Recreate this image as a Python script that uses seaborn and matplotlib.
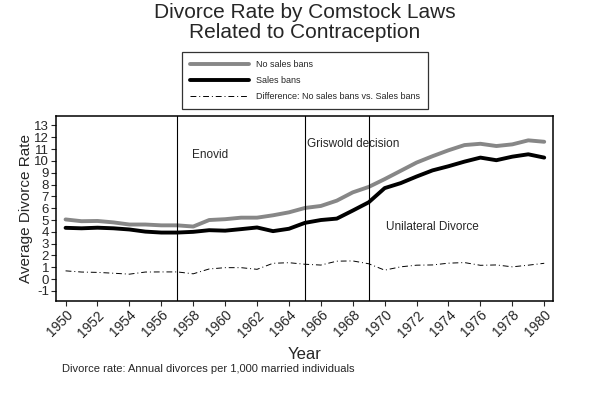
#!/usr/bin/env python
"""Divorce rate by Comstock laws related to contraception, 1950-1980."""
import matplotlib
matplotlib.use('Agg')
import matplotlib.pyplot as plt
import seaborn as sb
import pandas as pd
import numpy as np

years = list(range(1950, 1981))

# states without sales bans
no_sales_bans = [5.05, 4.90, 4.92, 4.80, 4.62, 4.62, 4.55, 4.55, 4.45, 5.00,
                 5.07, 5.20, 5.20, 5.40, 5.65, 6.02, 6.19, 6.64, 7.34, 7.80,
                 8.46, 9.16, 9.86, 10.40, 10.90, 11.34, 11.45, 11.26, 11.40, 11.74,
                 11.62]

# states with sales bans
sales_bans = [4.34, 4.30, 4.35, 4.30, 4.20, 4.02, 3.94, 3.94, 4.00, 4.14,
              4.10, 4.23, 4.37, 4.06, 4.26, 4.76, 5.00, 5.12, 5.80, 6.50,
              7.70, 8.12, 8.68, 9.20, 9.55, 9.94, 10.28, 10.06, 10.36, 10.56,
              10.28]

# difference line
difference = [0.70, 0.60, 0.57, 0.50, 0.42, 0.60, 0.61, 0.61, 0.45, 0.86,
              0.97, 0.97, 0.83, 1.34, 1.39, 1.26, 1.19, 1.52, 1.54, 1.30,
              0.76, 1.04, 1.18, 1.20, 1.35, 1.40, 1.17, 1.20, 1.04, 1.18,
              1.34]

events = [1957, 1965, 1969]
event_labels = ['Enovid', 'Griswold decision', 'Unilateral Divorce']
label_pos = [(1957.9, 10.5), (1965.15, 11.45), (1970.1, 4.4)]

yticks = list(range(-1, 14))
xticks = list(range(1950, 1981, 2))


def main():
    sb.set_style('white')
    plt.rcParams['font.family'] = ['Liberation Sans', 'DejaVu Sans']
    plt.rcParams['axes.unicode_minus'] = False

    df = pd.DataFrame({'year': years,
                       'no_bans': no_sales_bans,
                       'bans': sales_bans,
                       'diff': difference})

    fig = plt.figure(figsize=(5.89, 4.0), dpi=100)
    ax = fig.add_axes([56 / 589, 1 - 301 / 400, 497 / 589, 185 / 400])

    sb.lineplot(x='year', y='no_bans', data=df, ax=ax, color='#878787',
                linewidth=2.8, label='No sales bans')
    sb.lineplot(x='year', y='bans', data=df, ax=ax, color='black',
                linewidth=2.8, label='Sales bans')
    sb.lineplot(x='year', y='diff', data=df, ax=ax, color='black',
                linewidth=0.7, dashes=False, linestyle=(0, (6, 3, 1, 3)),
                label='Difference: No sales bans vs. Sales bans')

    for yr in events:
        ax.axvline(yr, color='black', linewidth=0.8)
    for txt, (tx, ty) in zip(event_labels, label_pos):
        ax.text(tx, ty, txt, fontsize=8.5, va='center', ha='left')

    ax.set_xlim(1949.4, 1980.55)
    ax.set_ylim(-1.85, 13.8)
    ax.set_xticks(xticks)
    ax.set_xticklabels([str(x) for x in xticks], rotation=45,
                       ha='right', rotation_mode='anchor')
    ax.set_yticks(yticks)
    ax.set_yticklabels([str(y) for y in yticks])
    ax.tick_params(axis='both', length=3.5, width=0.8,
                   direction='out', pad=1.5, bottom=True, left=True)
    ax.tick_params(axis='x', labelsize=10)
    ax.tick_params(axis='y', labelsize=9.5)
    for sp in ax.spines.values():
        sp.set_color('black')
        sp.set_linewidth(1.1)

    ax.set_xlabel('Year', fontsize=12, labelpad=5)
    ax.set_ylabel('Average Divorce Rate', fontsize=11, labelpad=1)

    # legend sits above the plot area
    ax.get_legend().remove()
    handles, labels = ax.get_legend_handles_labels()
    leg = fig.legend(handles, labels, loc='upper left',
                     bbox_to_anchor=(182 / 589, 1 - 52 / 400, 246 / 589, 0.0),
                     mode='expand', fontsize=6.5, frameon=True, fancybox=False,
                     handlelength=6.5, handletextpad=0.8, labelspacing=0.75,
                     borderpad=0.9, borderaxespad=0.0)
    leg.get_frame().set_edgecolor('black')
    leg.get_frame().set_linewidth(0.9)

    fig.text(305 / 589, 1 - 12.5 / 400, 'Divorce Rate by Comstock Laws',
             fontsize=15, ha='center', va='center')
    fig.text(305 / 589, 1 - 32 / 400, 'Related to Contraception',
             fontsize=15, ha='center', va='center')
    fig.text(62 / 589, 1 - 369 / 400,
             'Divorce rate: Annual divorces per 1,000 married individuals',
             fontsize=8, ha='left', va='center')

    fig.savefig('out.png', dpi=100, facecolor='white')


if __name__ == "__main__":
    main()
